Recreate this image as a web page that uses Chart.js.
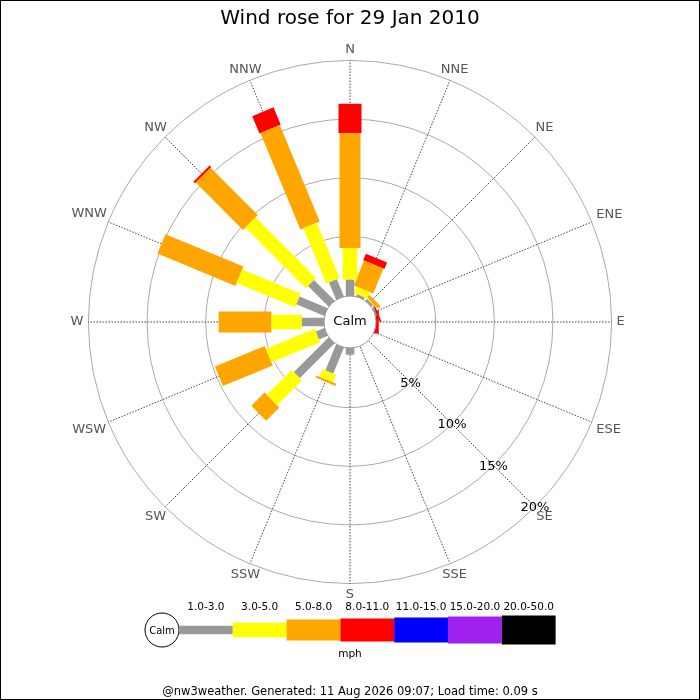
<!DOCTYPE html>
<html>
<head>
<meta charset="utf-8">
<script src="https://cdn.jsdelivr.net/npm/chart.js@4.4.1/dist/chart.umd.min.js"></script>
<style>
html,body{margin:0;padding:0;background:#fff;}
#wrap{width:700px;height:700px;position:relative;}
</style>
</head>
<body>
<div id="wrap"><canvas id="c"></canvas></div>
<script>
// ---------- DATA ----------
const directions = ['N','NNE','NE','ENE','E','ESE','SE','SSE','S','SSW','SW','WSW','W','WNW','NW','NNW'];
const speedBands = ['1.0-3.0','3.0-5.0','5.0-8.0','8.0-11.0','11.0-15.0','15.0-20.0','20.0-50.0'];
// percentage of time per direction in each speed band (mph)
const band1to3   = [1.3, 0.1, 0.1, 0.05, 0, 0, 0, 0, 0.5, 2.3, 4.1, 0.7, 1.8, 2.5, 2.4, 1.5];
const band3to5   = [2.7, 0.6, 0.1, 0,    0, 0, 0, 0, 0,   0.7, 3.0, 4.5, 2.6, 5.4, 7.3, 5.1];
const band5to8   = [9.8, 2.3, 0.3, 0,    0, 0, 0, 0, 0,   0.2, 1.6, 4.6, 4.5, 7.2, 5.7, 8.9];
const band8to11  = [2.5, 0.6, 0,   0.15, 0.15, 0, 0, 0, 0, 0,  0,   0,   0,   0,   0.2, 1.6];
const band11to15 = [0,0,0,0,0,0,0,0,0,0,0,0,0,0,0,0];
const band15to20 = [0,0,0,0,0,0,0,0,0,0,0,0,0,0,0,0];
const band20to50 = [0,0,0,0,0,0,0,0,0,0,0,0,0,0,0,0];
const ringTicks = [5, 10, 15, 20];
const ringLabels = ['5%', '10%', '15%', '20%'];
const titleText = 'Wind rose for 29 Jan 2010';
const unitText = 'mph';
const calmText = 'Calm';
const footerText = '@nw3weather. Generated: 11 Aug 2026 09:07; Load time: 0.09 s';

// ---------- STYLE ----------
const bandColors = ['#999999', '#ffff00', '#ffa500', '#ff0000', '#0000ff', '#a020f0', '#000000'];
const bandWidthsPx = [8.5, 14.5, 21, 23, 25, 27, 29];
const PX = 11.73;          // pixels per percent
const CALM_PX = 27;        // radius where 0% starts
const CENTER_Y = 322;
const W = 700, H = 700;
const R0 = CALM_PX / PX;   // in data units

const allBands = [band1to3, band3to5, band5to8, band8to11, band11to15, band15to20, band20to50];

// ---------- build polygons from data ----------
const datasets = [];
directions.forEach((d, i) => {
  const th = i * Math.PI / 8;
  const dx = Math.sin(th), dy = Math.cos(th);
  const px = Math.cos(th), py = -Math.sin(th);
  let start = R0;
  let first = true;
  allBands.forEach((band, b) => {
    const v = band[i];
    if (!v) return;
    const r1 = first ? R0 * 0.5 : start;
    const r2 = start + v;
    first = false;
    const hw = bandWidthsPx[b] / 2 / PX;
    const pts = [
      {x: r1*dx + hw*px, y: r1*dy + hw*py},
      {x: r2*dx + hw*px, y: r2*dy + hw*py},
      {x: r2*dx - hw*px, y: r2*dy - hw*py},
      {x: r1*dx - hw*px, y: r1*dy - hw*py},
      {x: r1*dx + hw*px, y: r1*dy + hw*py}
    ];
    datasets.push({
      label: d + ' ' + speedBands[b],
      data: pts,
      showLine: true,
      fill: 'shape',
      backgroundColor: bandColors[b],
      borderColor: bandColors[b],
      borderWidth: 0,
      pointRadius: 0,
      pointHoverRadius: 0,
      tension: 0
    });
    start = r2;
  });
});

const font = (s) => s + 'px "DejaVu Sans", sans-serif';

const rosePlugin = {
  id: 'rose',
  beforeDatasetsDraw(chart) {
    const ctx = chart.ctx;
    const xs = chart.scales.x, ys = chart.scales.y;
    const cx = xs.getPixelForValue(0), cy = ys.getPixelForValue(0);
    const rpx = (u) => xs.getPixelForValue(u) - cx;
    ctx.save();
    // rings
    ctx.strokeStyle = '#aaaaaa';
    ctx.lineWidth = 1;
    ringTicks.forEach(t => {
      ctx.beginPath();
      ctx.arc(cx, cy, rpx(R0 + t), 0, Math.PI * 2);
      ctx.stroke();
    });
    // spokes
    const outer = rpx(R0 + ringTicks[ringTicks.length - 1]);
    ctx.strokeStyle = '#444444';
    ctx.setLineDash([1.5, 1.5]);
    directions.forEach((d, i) => {
      const th = i * Math.PI / 8;
      ctx.beginPath();
      ctx.moveTo(cx + Math.sin(th) * rpx(R0), cy - Math.cos(th) * rpx(R0));
      ctx.lineTo(cx + Math.sin(th) * outer, cy - Math.cos(th) * outer);
      ctx.stroke();
    });
    ctx.restore();
  },
  afterDatasetsDraw(chart) {
    const ctx = chart.ctx;
    const xs = chart.scales.x, ys = chart.scales.y;
    const cx = xs.getPixelForValue(0), cy = ys.getPixelForValue(0);
    const rpx = (u) => xs.getPixelForValue(u) - cx;
    ctx.save();
    // calm circle
    ctx.beginPath();
    ctx.arc(cx, cy, rpx(R0) - 1, 0, Math.PI * 2);
    ctx.fillStyle = '#ffffff';
    ctx.fill();
    ctx.strokeStyle = '#999999';
    ctx.lineWidth = 1;
    ctx.stroke();
    ctx.fillStyle = '#000';
    ctx.font = font(13);
    ctx.textAlign = 'center';
    ctx.textBaseline = 'middle';
    ctx.fillText(calmText, cx, cy);

    // direction labels
    const outer = rpx(R0 + ringTicks[ringTicks.length - 1]);
    ctx.font = font(13);
    ctx.fillStyle = '#555555';
    directions.forEach((d, i) => {
      const th = i * Math.PI / 8;
      const sx = Math.sin(th), sy = -Math.cos(th);
      const w = ctx.measureText(d).width, h = 12;
      const ex = Math.abs(sx) > 1e-6 ? (w / 2) / Math.abs(sx) : Infinity;
      const ey = Math.abs(sy) > 1e-6 ? (h / 2) / Math.abs(sy) : Infinity;
      const r = outer + 5 + Math.min(ex, ey);
      ctx.fillText(d, cx + sx * r, cy + sy * r);
    });

    // percent labels along SE spoke
    ctx.fillStyle = '#000';
    ctx.font = font(13);
    const thSE = 6 * Math.PI / 8;
    ringTicks.forEach((t, k) => {
      const r = rpx(R0 + t);
      ctx.fillText(ringLabels[k], cx + Math.sin(thSE) * r, cy - Math.cos(thSE) * r + 1);
    });

    // title
    ctx.font = font(20);
    ctx.textBaseline = 'alphabetic';
    ctx.fillText(titleText, W / 2, 24);

    // legend
    const lgCx = 162, lgCy = 630, lgR = 17;
    ctx.beginPath();
    ctx.arc(lgCx, lgCy, lgR, 0, Math.PI * 2);
    ctx.fillStyle = '#fff';
    ctx.fill();
    ctx.strokeStyle = '#000';
    ctx.lineWidth = 1;
    ctx.stroke();
    ctx.fillStyle = '#000';
    ctx.font = font(10);
    ctx.textBaseline = 'middle';
    ctx.fillText(calmText, lgCx, lgCy + 1);
    const segW = 53.8;
    let x0 = lgCx + lgR;
    speedBands.forEach((lab, b) => {
      const hgt = bandWidthsPx[b];
      ctx.fillStyle = bandColors[b];
      ctx.fillRect(x0, lgCy - hgt / 2, segW, hgt);
      ctx.fillStyle = '#000';
      ctx.font = font(10.5);
      ctx.fillText(lab, x0 + segW / 2, 607);
      x0 += segW;
    });
    ctx.font = font(10.5);
    ctx.fillText(unitText, W / 2, 654);

    // footer
    ctx.font = font(11.5);
    ctx.fillText(footerText, W / 2, 692);

    // border
    ctx.strokeStyle = '#000';
    ctx.lineWidth = 1;
    ctx.strokeRect(0.5, 0.5, W - 1, H - 1);
    ctx.restore();
  }
};

new Chart(document.getElementById('c'), {
  type: 'scatter',
  data: { datasets },
  options: {
    responsive: true,
    maintainAspectRatio: false,
    animation: false,
    layout: { padding: 0 },
    plugins: { legend: { display: false }, title: { display: false }, tooltip: { enabled: false } },
    events: [],
    scales: {
      x: { type: 'linear', display: false, min: -(W / 2) / PX, max: (W / 2) / PX },
      y: { type: 'linear', display: false, min: -(H - CENTER_Y) / PX, max: CENTER_Y / PX }
    }
  },
  plugins: [rosePlugin]
});
</script>
</body>
</html>
